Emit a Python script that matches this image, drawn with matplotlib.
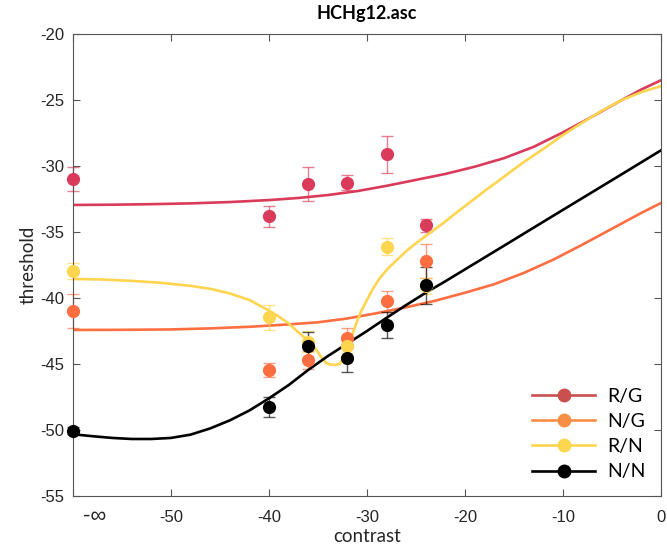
import numpy as np
import matplotlib.pyplot as plt
from matplotlib.lines import Line2D

plt.rcParams['font.family'] = ['Liberation Sans', 'DejaVu Sans']
plt.rcParams['axes.unicode_minus'] = False

# measured contrast levels (-60 stands for -inf)
contrast = [-60, -40, -36, -32, -28, -24]

rg_thr = [-31.0, -33.8, -31.35, -31.25, -29.1, -34.5]
rg_err = [0.9, 0.8, 1.3, 0.6, 1.4, 0.5]
ng_thr = [-41.0, -45.45, -44.7, -43.0, -40.25, -37.2]
ng_err = [1.3, 0.55, 0.7, 0.75, 0.8, 1.3]
rn_thr = [-37.95, -41.45, -43.3, -43.6, -36.1, -39.1]
rn_err = [0.6, 0.95, 0.8, 0.6, 0.65, 0.6]
nn_thr = [-50.05, -48.25, -43.65, -44.55, -42.05, -39.05]
nn_err = [0.25, 0.73, 1.05, 1.05, 1.0, 1.4]

# model fits
rg_fit_x = [-60, -56, -52, -48, -44, -40, -37, -34, -31, -28, -25, -22, -19, -16,
            -13, -10, -7, -4, -2, 0]
rg_fit_y = [-32.95, -32.93, -32.89, -32.83, -32.73, -32.58, -32.42, -32.2, -31.9,
            -31.5, -31.05, -30.6, -30.05, -29.4, -28.55, -27.45, -26.25, -25.0,
            -24.2, -23.5]

ng_fit_x = [-60, -55, -50, -46, -42, -38, -35, -32, -29, -26, -23, -20, -17, -14,
            -11, -8, -5, -2, 0]
ng_fit_y = [-42.42, -42.41, -42.38, -42.3, -42.18, -42.0, -41.84, -41.55, -41.15,
            -40.7, -40.2, -39.6, -38.95, -38.1, -37.1, -35.95, -34.75, -33.55,
            -32.8]

rn_fit_x = [-60, -57, -54, -51, -48, -46, -44, -42, -40, -39, -38, -37, -36.2,
            -35.6, -35.1, -34.6, -34.2, -33.8, -33.2, -32.8, -32.4, -32.1, -31.7,
            -31.4, -31.0, -30.6, -30.0, -29.4, -28.7, -27.9, -27.0, -26.0, -25,
            -24, -23, -22, -21, -19.5, -18, -16, -14, -12, -10, -8, -6, -4, -2, 0]
rn_fit_y = [-38.55, -38.6, -38.7, -38.85, -39.08, -39.3, -39.65, -40.15, -40.95,
            -41.4, -41.92, -42.6, -43.1, -43.5, -44.0, -44.55, -44.9, -45.03,
            -45.07, -45.0, -44.6, -44.1, -43.25, -42.55, -41.75, -41.0, -40.15,
            -39.3, -38.5, -37.8, -37.15, -36.45, -35.85, -35.3, -34.75, -34.2,
            -33.6, -32.75, -31.9, -30.8, -29.7, -28.7, -27.65, -26.7, -25.8,
            -25.0, -24.4, -23.95]

nn_fit_x = [-60, -58, -56, -54, -52, -50, -48, -46, -44, -42, -40, -38, -36, -34,
            -32, -30, -28, -26, -24, -22, -20, -16, -12, -8, -4, 0]
nn_fit_y = [-50.32, -50.47, -50.6, -50.68, -50.68, -50.6, -50.35, -49.88, -49.27,
            -48.52, -47.6, -46.6, -45.45, -44.4, -43.45, -42.5, -41.5, -40.53,
            -39.6, -38.73, -37.83, -36.03, -34.22, -32.42, -30.62, -28.81]

labels = ['R/G', 'N/G', 'R/N', 'N/N']
colors = ['#DB3B5B', '#FF6E40', '#FFD54F', '#000000']
legend_colors = ['#C9504E', '#F98E45', '#FDD64F', '#000000']

series = [
    (rg_thr, rg_err, rg_fit_x, rg_fit_y),
    (ng_thr, ng_err, ng_fit_x, ng_fit_y),
    (rn_thr, rn_err, rn_fit_x, rn_fit_y),
    (nn_thr, nn_err, nn_fit_x, nn_fit_y),
]

fig = plt.figure(figsize=(6.67, 5.56), dpi=100)
ax = fig.add_axes([0.1094, 0.1079, 0.8816, 0.8309])

for (thr, err, fx, fy), c in zip(series, colors):
    ax.plot(fx, fy, color=c, lw=1.9, solid_joinstyle='round')
    ax.errorbar(contrast, thr, yerr=err, fmt='none', ecolor=c, elinewidth=1.0,
                capsize=4.5, capthick=1.0, alpha=0.65, clip_on=False)
    ax.plot(contrast, thr, 'o', color=c, markersize=9.5, markeredgewidth=0,
            clip_on=False, zorder=3)

ax.set_xlim(-60, 0)
ax.set_ylim(-55, -20)
ax.set_xticks([-60, -50, -40, -30, -20, -10, 0])
ax.set_xticklabels(['', '-50', '-40', '-30', '-20', '-10', '0'])
ax.set_yticks(np.arange(-55, -19, 5))

# the -inf tick label sits a little right of the left spine
ax.annotate('-\u221e', xy=(-60, 0), xycoords=('data', 'axes fraction'),
            xytext=(22, -10), textcoords='offset pixels', ha='center', va='top',
            fontsize=16, color='#262626')

for s in ax.spines.values():
    s.set_color('#555555')
    s.set_linewidth(0.8)
ax.tick_params(axis='x', pad=10)
ax.tick_params(axis='y', pad=6)
ax.tick_params(direction='in', length=5, width=0.8, color='#555555',
               top=True, right=True, labelsize=12, labelcolor='#262626')

ax.set_title('HCHg12.asc', fontsize=13, fontweight='bold', family='Lato', pad=11)
ax.set_xlabel('contrast', fontsize=13.5, family='Lato', color='#262626', labelpad=2)
ax.set_ylabel('threshold', fontsize=13.5, family='Lato', color='#262626', labelpad=3)

handles = [Line2D([0], [0], color=c, lw=1.9, marker='o', markersize=10,
                  markeredgewidth=0) for c in legend_colors]
ax.legend(handles, labels, loc='lower right', frameon=False,
          prop={'family': 'Lato', 'size': 14}, handlelength=3.25,
          handletextpad=0.6, labelspacing=0.42, borderaxespad=0.4)

fig.savefig('out.png', dpi=100)
